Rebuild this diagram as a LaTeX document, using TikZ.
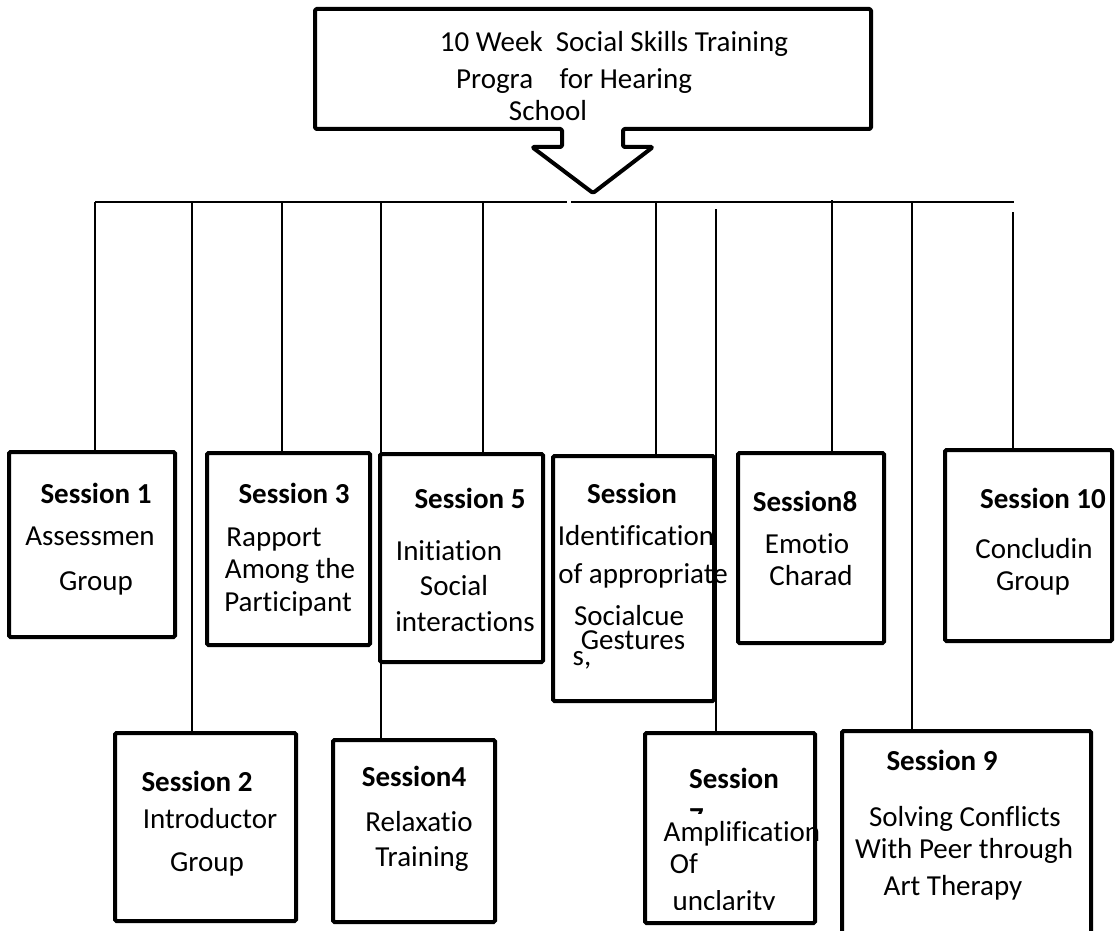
\documentclass[tikz,border=0pt]{standalone}
\usepackage{fontspec}
\setmainfont{Carlito}[Ligatures=NoCommon]
\usetikzlibrary{fit}

\begin{document}
\begin{tikzpicture}[
    x=1pt, y=-1pt,
    banner/.style={draw=black, line width=4pt, line join=round, rounded corners=1.5pt},
    session box/.style={draw=black, line width=4pt, rounded corners=1.5pt, inner sep=0pt},
    bus line/.style={draw=black, line width=1.4pt},
    drop line/.style={draw=black, line width=1.4pt},
    session title/.style={font=\fontsize{29}{33}\selectfont\bfseries, inner sep=0pt, anchor=mid, yshift=-6pt},
    session text/.style={font=\fontsize{29}{33}\selectfont, inner sep=0pt, anchor=mid, yshift=-6pt}
]
\useasboundingbox (0,0) rectangle (1116,931);

% Banner with arrow
\draw[banner] (315,9) -- (871,9) -- (871,129) -- (623,129) -- (623,147) -- (653,147)
    -- (593,193) -- (532,147) -- (562,147) -- (562,129) -- (315,129) -- cycle;
\node[session text] (p1) at (614,43) {10 Week\ \ Social Skills Training};
\node[session text] (p2) at (574,80) {Progra\hspace{20pt} for Hearing};
\node[session text] (p3) at (548,112) {School};

% Session titles
\foreach \n/\x/\y/\t in {1/96/495/Session 1, 2/197/783/Session 2, 3/294/495/Session 3,
    4/414/778/Session4, 5/470/500/Session 5, 6/632/495/Session, 7/734/780/Session,
    8/805/503/Session8, 9/942/762/Session 9, 10/1043/500/Session 10} {
    \node[session title] (h\n) at (\x,\y) {\t};
}

% Session texts
\foreach \x/\y/\t [count=\i] in {
    90/537/Assessmen, 96/582/Group,
    210/820/Introductor, 207/863/Group,
    274/538/Rapport, 290/570/Among the, 288/603/Participant,
    419/823/Relaxatio, 422/858/Training,
    449/552/Initiation, 454/587/Social, 465/623/interactions,
    636/537/Identification, 643/575/of appropriate, 629/617/Socialcue, 633/641/Gestures, 582/657/{s,},
    742/833/Amplification, 684/865/Of,
    807/545/Emotio, 811/577/Charad,
    965/818/Solving Conflicts, 964/850/With Peer through, 953/887/Art Therapy,
    1034/550/Concludin, 1033/582/Group} {
    \node[session text] (b\i) at (\x,\y) {\t};
}
\begin{scope}
    \clip (686,806) rectangle (712,813);
    \node[font=\fontsize{29}{33}\selectfont\bfseries, inner sep=0pt, anchor=north west] (seven) at (689,808) {7};
\end{scope}
\begin{scope}
    \clip (660,890) rectangle (800,909);
    \node[session text] (unclear) at (724,902) {unclarity};
\end{scope}

% Boxes
\foreach \n/\xa/\ya/\xb/\yb in {1/9/452/175/637, 2/115/733/296/921, 3/207/453/370/645,
    4/333/740/495/922, 5/380/454/543/662, 6/553/456/714/701, 7/645/733/815/923,
    8/738/453/884/643, 9/842/731/1091/945, 10/945/450/1112/641} {
    \node[session box, fit={(\xa,\ya) (\xb,\yb)}] (s\n) {};
}

% Bus and drops
\coordinate (bus w) at (95,202);
\coordinate (gap w) at (567,202);
\coordinate (gap e) at (571,202);
\coordinate (bus e) at (1014,202);
\draw[bus line] (bus w) -- (gap w);
\draw[bus line] (gap e) -- (bus e);
\foreach \n/\x/\y in {1/95/202, 2/192/202, 3/282/202, 4/381/202, 5/483/202,
    6/656/202, 7/716/209, 8/832/200, 9/912/202, 10/1013/212} {
    \coordinate (t\n) at (\x,\y);
    \draw[drop line] (t\n) -- (t\n |- s\n.north);
}
\end{tikzpicture}
\end{document}
